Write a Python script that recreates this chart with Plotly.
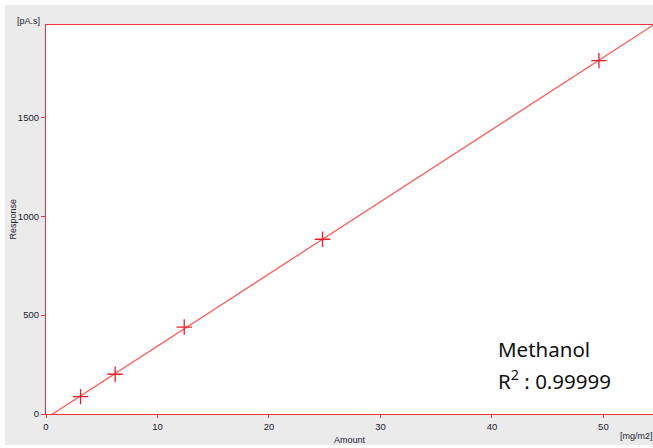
import numpy as np
import plotly.graph_objects as go

# Data
amount = [3.1, 6.2, 12.4, 24.8, 49.6]
response = [88, 201, 440, 884, 1788]
x_ticks = [0, 10, 20, 30, 40, 50]
y_ticks = [0, 500, 1000, 1500]
compound = "Methanol"
r2_text = "0.99999"

slope, intercept = np.polyfit(amount, response, 1)
fit_x = [0, 56]
fit_y = [slope * v + intercept for v in fit_x]

W, H = 653, 448
L, R, T, B = 46, 0, 25, 34
pw, ph = W - L - R, H - T - B

def px(xp):
    return (xp - L) / pw

def py(yp):
    return (H - B - yp) / ph

border = "#f0323c"
fit_col = "#f26a6a"
mark_col = "#e8202a"
txt = "#1a1a2e"
gray = "#ebebeb"

fig = go.Figure()
fig.add_trace(go.Scatter(x=fit_x, y=fit_y, mode="lines",
                         line=dict(color=fit_col, width=1.4), hoverinfo="skip"))
fig.add_trace(go.Scatter(x=amount, y=response, mode="markers",
                         marker=dict(symbol="cross-thin", size=11,
                                     line=dict(color=mark_col, width=1.3)),
                         cliponaxis=False))

tickfont = dict(family="Liberation Sans", size=9.5, color=txt)
fig.update_xaxes(range=[0, 54.45], tickvals=x_ticks, showgrid=False, zeroline=False,
                 showline=True, linecolor=border, linewidth=1.2, mirror=True,
                 ticks="outside", ticklen=3, tickcolor=border, tickfont=tickfont)
fig.update_yaxes(range=[0, 1968], tickvals=y_ticks, showgrid=False, zeroline=False,
                 showline=True, linecolor=border, linewidth=1.2, mirror=False,
                 ticks="outside", ticklen=4, tickcolor=border, tickfont=tickfont)

small = dict(family="Liberation Sans", size=9, color=txt)
big = dict(family="Noto Sans", size=20.5, color="#111111")
ann = [
    dict(text="Amount", x=px(349.5), y=py(440), font=small, xanchor="center", yanchor="middle"),
    dict(text="Response", x=px(12), y=0.5, font=small, textangle=-90, xanchor="center", yanchor="middle"),
    dict(text="[pA.s]", x=px(28), y=py(21), font=small, xanchor="center", yanchor="middle"),
    dict(text="[mg/m2]", x=px(636), y=py(436), font=small, xanchor="center", yanchor="middle"),
    dict(text=compound, x=px(496), y=py(349), font=big, xanchor="left", yanchor="middle"),
    dict(text="R<sup>2</sup> : " + r2_text, x=px(496), y=py(380), font=big, xanchor="left", yanchor="middle"),
]
for a in ann:
    a.update(xref="paper", yref="paper", showarrow=False)

shapes = [
    dict(type="rect", xref="paper", yref="paper", x0=px(-10), x1=px(5), y0=py(460), y1=py(-10),
         fillcolor="white", line=dict(width=0), layer="below"),
    dict(type="rect", xref="paper", yref="paper", x0=px(-10), x1=px(670), y0=py(5), y1=py(-10),
         fillcolor="white", line=dict(width=0), layer="below"),
    dict(type="rect", xref="paper", yref="paper", x0=px(-10), x1=px(670), y0=py(460), y1=py(445),
         fillcolor="white", line=dict(width=0), layer="below"),
]

fig.update_layout(width=W, height=H, margin=dict(l=L, r=R, t=T, b=B),
                  paper_bgcolor=gray, plot_bgcolor="white", showlegend=False,
                  annotations=ann, shapes=shapes)

fig.write_html("out.html", config={"displayModeBar": False},
               post_script="document.body.style.margin='0';document.body.style.overflow='hidden';")
